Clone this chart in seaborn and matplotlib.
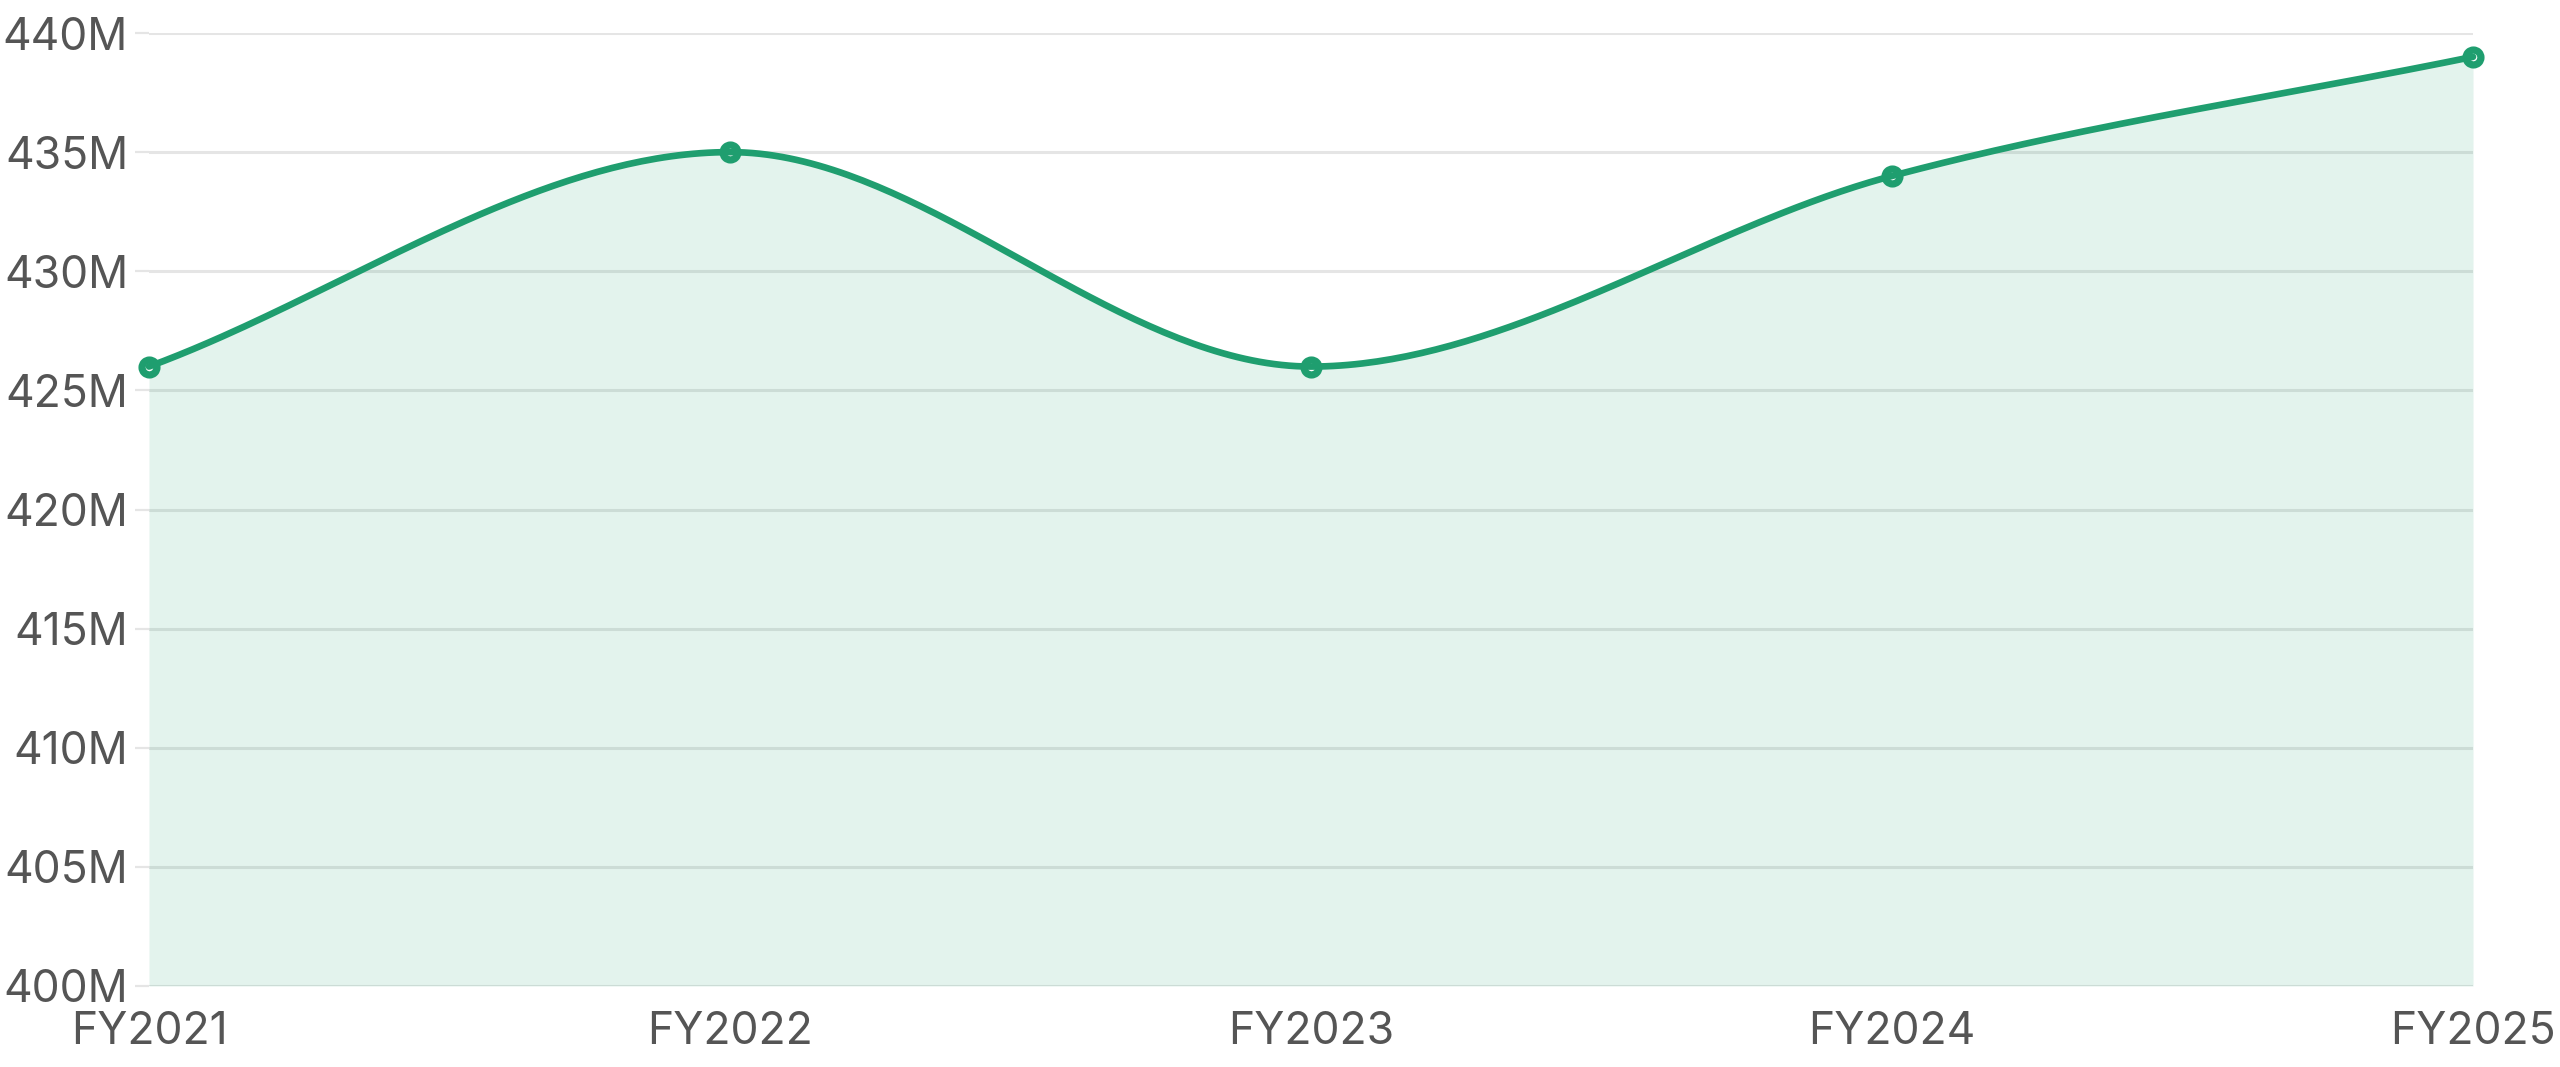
import numpy as np
import pandas as pd
import matplotlib
matplotlib.use("Agg")
import matplotlib.pyplot as plt
from matplotlib.ticker import FuncFormatter
import seaborn as sns

# ---- data ----
years = ["FY2021", "FY2022", "FY2023", "FY2024", "FY2025"]
values_m = [426, 435, 426, 434, 439]  # millions
y_ticks_m = [400, 405, 410, 415, 420, 425, 430, 435, 440]

LINE = "#1f9e6f"
GRID = "#e5e5e5"
TEXT = "#555555"

sns.set_theme(style="white")
plt.rcParams["font.family"] = ["Inter", "DejaVu Sans"]


def monotone_curve(x, y, n=80):
    """Monotone cubic (Fritsch-Carlson, Chart.js style) interpolation."""
    x = np.asarray(x, float)
    y = np.asarray(y, float)
    m = len(x)
    delta = np.diff(y) / np.diff(x)
    t = np.zeros(m)
    t[0] = delta[0]
    t[-1] = delta[-1]
    for i in range(1, m - 1):
        if delta[i - 1] == 0 or delta[i] == 0 or np.sign(delta[i - 1]) != np.sign(delta[i]):
            t[i] = 0.0
        else:
            t[i] = (delta[i - 1] + delta[i]) / 2
    for i in range(m - 1):
        if delta[i] == 0:
            t[i] = t[i + 1] = 0
            continue
        a = t[i] / delta[i]
        b = t[i + 1] / delta[i]
        sq = a * a + b * b
        if sq > 9:
            tau = 3 / np.sqrt(sq)
            t[i] = a * tau * delta[i]
            t[i + 1] = b * tau * delta[i]
    xs, ys = [], []
    u = np.linspace(0, 1, n)
    for i in range(m - 1):
        dx = (x[i + 1] - x[i]) / 3
        P0 = (x[i], y[i])
        P1 = (x[i] + dx, y[i] + dx * t[i])
        P2 = (x[i + 1] - dx, y[i + 1] - dx * t[i + 1])
        P3 = (x[i + 1], y[i + 1])
        b0 = (1 - u) ** 3
        b1 = 3 * (1 - u) ** 2 * u
        b2 = 3 * (1 - u) * u ** 2
        b3 = u ** 3
        xs.append(b0 * P0[0] + b1 * P1[0] + b2 * P2[0] + b3 * P3[0])
        ys.append(b0 * P0[1] + b1 * P1[1] + b2 * P2[1] + b3 * P3[1])
    return np.concatenate(xs), np.concatenate(ys)


pos = np.arange(len(years))
vals = np.array(values_m) * 1e6
df = pd.DataFrame({"pos": pos, "value": vals})
cx, cy = monotone_curve(pos, vals)
curve = pd.DataFrame({"x": cx, "y": cy})

fig = plt.figure(figsize=(25.6, 10.67), dpi=100)
ax = fig.add_axes([149 / 2560, 1 - 986 / 1067, (2473 - 149) / 2560, (986 - 33) / 1067])

ax.set_ylim(400e6, 440e6)
ax.set_xlim(0, len(years) - 1)
ax.set_yticks(np.array(y_ticks_m) * 1e6)
ax.yaxis.grid(True, color=GRID, linewidth=2.2, zorder=0)
ax.set_axisbelow(True)

ax.fill_between(cx, cy, 400e6, color=LINE, alpha=0.12, linewidth=0, zorder=1)
sns.scatterplot(data=df, x="pos", y="value", ax=ax, s=115, color="white",
                edgecolor=LINE, linewidth=5.2, zorder=3, clip_on=False, legend=False)
sns.lineplot(data=curve, x="x", y="y", ax=ax, color=LINE, linewidth=4.8,
             zorder=4, clip_on=False, sort=False, estimator=None)

ax.set_xticks(pos)
ax.set_xticklabels(years)
ax.yaxis.set_major_formatter(FuncFormatter(lambda v, p: f"{v/1e6:.0f}M"))
ax.set_xlabel("")
ax.set_ylabel("")
for s in ax.spines.values():
    s.set_visible(False)
ax.tick_params(axis="y", which="major", left=True, length=10, width=1.6,
               color=GRID, pad=5, labelsize=32, labelcolor=TEXT)
ax.tick_params(axis="x", which="major", bottom=False, length=0, pad=18,
               labelsize=32, labelcolor=TEXT)

fig.savefig("out.png", dpi=100, facecolor="white")
